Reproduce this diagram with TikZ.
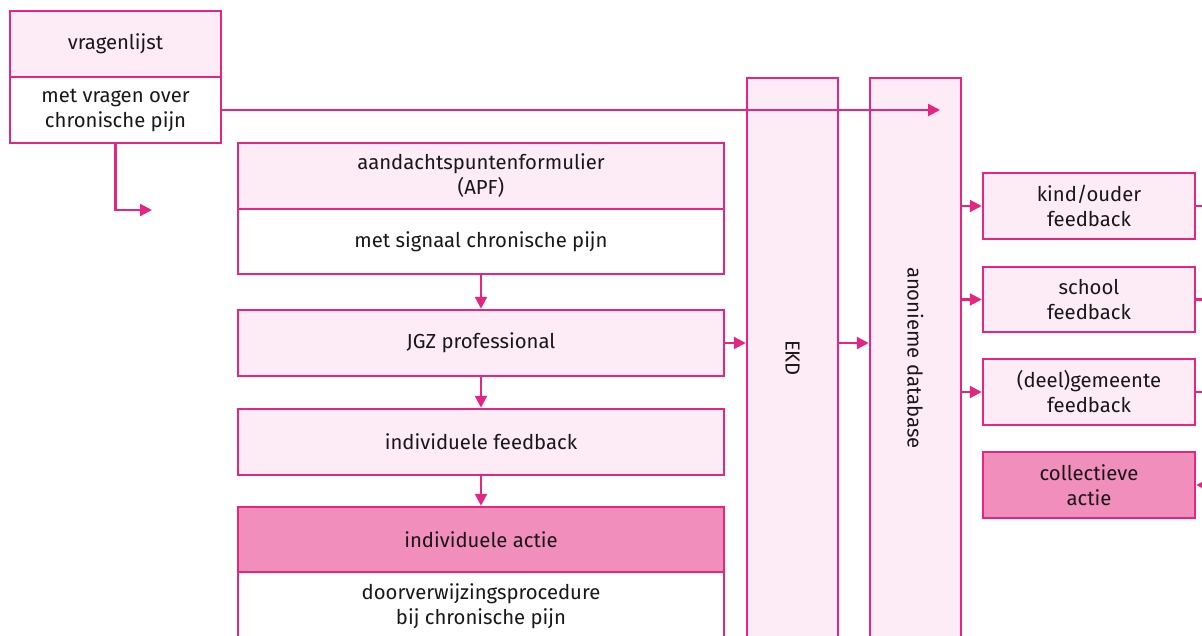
\documentclass[tikz,border=0pt]{standalone}
\usepackage{fontspec}
\setmainfont{Fira Sans}
\usetikzlibrary{arrows.meta}
\definecolor{mag}{RGB}{230,37,130}
\definecolor{lpink}{RGB}{253,236,246}
\definecolor{dpink}{RGB}{241,142,187}
\definecolor{txt}{RGB}{25,23,23}
\begin{document}
\begin{tikzpicture}[x={(1pt,0)},y={(0,-1pt)},
  font=\fontsize{20.3}{25}\selectfont,
  bx/.style={draw=mag, line width=2.5pt, inner sep=0pt, align=center, text=txt},
  lbox/.style={bx, fill=lpink},
  wbox/.style={bx, fill=white},
  dbox/.style={bx, fill=dpink},
  arr/.style={draw=mag, line width=2.2pt, -{Triangle[length=12pt,width=12pt]}},
  ln/.style={draw=mag, line width=2.2pt}]
\useasboundingbox (0,0) rectangle (1202,635);
% left column
\node[lbox, minimum width=211pt, minimum height=66pt] (vq) at (115.5,44) {vragenlijst};
\node[wbox, minimum width=211pt, minimum height=66pt] (vqb) at (115.5,110) {met vragen over\\chronische pijn};
\coordinate (vqend) at (152,210);
% central column
\node[lbox, minimum width=486pt, minimum height=66pt] (apf) at (481,176) {aandachtspuntenformulier\\(APF)};
\node[wbox, minimum width=486pt, minimum height=65pt] (apfb) at (481,241.5) {met signaal chronische pijn};
\node[lbox, minimum width=486pt, minimum height=66pt] (jgz) at (481,343) {JGZ professional};
\node[lbox, minimum width=486pt, minimum height=66pt] (if) at (481,442) {individuele feedback};
\node[dbox, minimum width=486pt, minimum height=65pt] (ia) at (481,539.5) {individuele actie};
\node[wbox, minimum width=486pt, minimum height=68pt] (iab) at (481,606) {doorverwijzingsprocedure\\bij chronische pijn};
% tall columns
\node[lbox, minimum width=91pt, minimum height=560pt] (ekd) at (792.5,358) {};
\node[rotate=-90, text=txt] (ekdt) at (ekd.center) {EKD};
\node[lbox, minimum width=91pt, minimum height=560pt] (db) at (915.5,358) {};
\node[rotate=-90, text=txt] (dbt) at (db.center) {anonieme database};
\coordinate (dbin) at (940,110);
% right column
\node[lbox, minimum width=212pt, minimum height=66pt] (kind) at (1089,206) {kind/ouder\\feedback};
\node[lbox, minimum width=212pt, minimum height=65pt] (school) at (1089,299.5) {school\\feedback};
\node[lbox, minimum width=212pt, minimum height=66pt] (gem) at (1089,392) {(deel)gemeente\\feedback};
\node[dbox, minimum width=212pt, minimum height=66pt] (coll) at (1089,485) {collectieve\\actie};
\coordinate (kindout) at (1215,206);
\coordinate (schoolout) at (1215,299.5);
\coordinate (gemout) at (1215,392);
\coordinate (collin) at (1215,485);
% connectors
\draw[arr] (vqb.south) |- (vqend);
\draw[arr] (vqb.east) -- (dbin);
\draw[arr] (apfb.south) -- (jgz.north);
\draw[arr] (jgz.south) -- (if.north);
\draw[arr] (if.south) -- (ia.north);
\draw[arr] (jgz.east) -- (jgz.east -| ekd.west);
\draw[arr] (jgz.east -| ekd.east) -- (jgz.east -| db.west);
\draw[arr] (kind.west -| db.east) -- (kind.west);
\draw[arr] (school.west -| db.east) -- (school.west);
\draw[arr] (gem.west -| db.east) -- (gem.west);
\draw[ln] (kind.east) -- (kindout);
\draw[ln] (school.east) -- (schoolout);
\draw[ln] (gem.east) -- (gemout);
\draw[arr] (collin) -- (coll.east);
\end{tikzpicture}
\end{document}
